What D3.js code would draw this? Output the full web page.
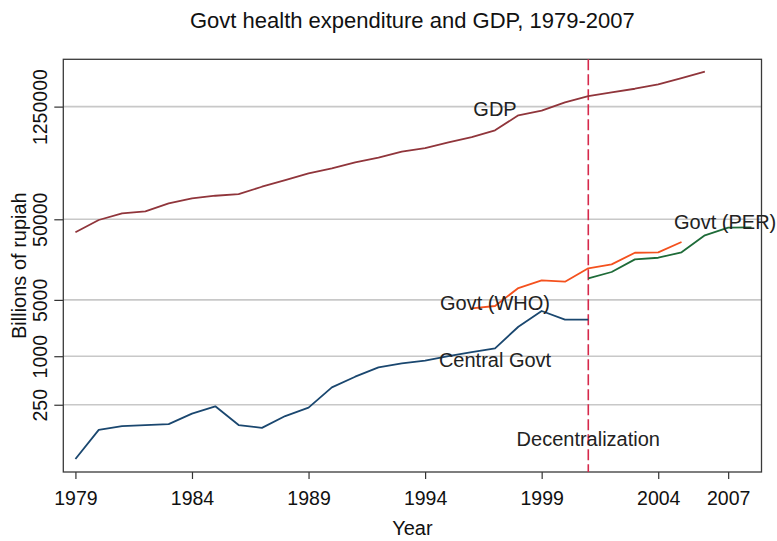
<!DOCTYPE html>
<html>
<head>
<meta charset="utf-8">
<script src="https://cdn.jsdelivr.net/npm/d3@7"></script>
<style>
  html, body { margin: 0; padding: 0; background: #fff; }
  svg { display: block; font-family: "Liberation Sans", Arial, Helvetica, sans-serif; }
</style>
</head>
<body>
<svg id="chart" width="777" height="541"></svg>
<script>
// Indonesian GDP and government health expenditure, billions of rupiah
const gdpYears = d3.range(1979, 2007);
const gdpValues = [34450, 48980, 59300, 62800, 78900, 91000, 98000, 102800, 126700, 153500,
  185800, 214300, 254500, 290300, 344500, 382800, 450600, 524500, 635300, 975000,
  1112000, 1413000, 1691000, 1880000, 2083000, 2362000, 2829000, 3389000];

const centralYears = d3.range(1979, 2002);
const centralValues = [53, 122, 136, 140, 144, 194, 239, 140, 129, 181,
  230, 411, 557, 728, 816, 880, 1000, 1127, 1253, 2323, 3638, 2838, 2838];

const whoYears = d3.range(1996, 2006);
const whoValues = [3926, 4200, 7015, 8750, 8400, 12330, 13800, 19230, 19450, 26100];

const perYears = d3.range(2001, 2009);
const perValues = [9250, 11090, 15920, 16670, 19450, 31600, 39300, 39700];

const xTicks = [1979, 1984, 1989, 1994, 1999, 2004, 2007];
const yTicks = [250, 1000, 5000, 50000, 1250000];
const decentralizationYear = 2001;

const series = [
  { name: "GDP", years: gdpYears, values: gdpValues, color: "#90353b", labelYear: 1997, dx: 0, dy: -14 },
  { name: "Central Govt", years: centralYears, values: centralValues, color: "#1a476f", labelYear: 1997, dx: 0, dy: 19 },
  { name: "Govt (WHO)", years: whoYears, values: whoValues, color: "#f4511e", labelYear: 1997, dx: 0, dy: 4 },
  { name: "Govt (PER)", years: perYears, values: perValues, color: "#1e6b38", labelYear: 2007, dx: -3, dy: 1.5 }
];

const svg = d3.select("#chart");
const plot = { left: 63.3, right: 761.5, top: 59.3, bottom: 472 };

const x = d3.scaleLinear().domain([1978.48, 2008.43]).range([plot.left, plot.right]);
const y = d3.scaleLog().domain([36.6, 4.83e6]).range([plot.bottom, plot.top]);

// horizontal grid lines at labelled ticks
svg.append("g").selectAll("line").data(yTicks).join("line")
  .attr("x1", plot.left).attr("x2", plot.right)
  .attr("y1", d => y(d)).attr("y2", d => y(d))
  .attr("stroke", "#c8c8c8").attr("stroke-width", 1.6);

// y axis with rotated labels
const yAxis = svg.append("g")
  .attr("transform", `translate(${plot.left},0)`)
  .call(d3.axisLeft(y).tickValues(yTicks).tickFormat(d3.format("d")).tickSize(9).tickPadding(0));
yAxis.select(".domain").remove();
yAxis.selectAll(".tick line").attr("stroke", "#333").attr("stroke-width", 1.2);
yAxis.selectAll(".tick text")
  .attr("transform", "translate(-16.5,0) rotate(-90)")
  .attr("x", 0).attr("dy", 0).attr("y", 0)
  .attr("text-anchor", "middle")
  .attr("font-size", "19.5px").attr("fill", "#111");

// x axis
const xAxis = svg.append("g")
  .attr("transform", `translate(0,${plot.bottom})`)
  .call(d3.axisBottom(x).tickValues(xTicks).tickFormat(d3.format("d")).tickSize(7).tickPadding(0));
xAxis.select(".domain").remove();
xAxis.selectAll(".tick line").attr("stroke", "#333").attr("stroke-width", 1.2);
xAxis.selectAll(".tick text")
  .attr("y", 33).attr("dy", 0)
  .attr("font-size", "19.5px").attr("fill", "#111");

// plot frame
svg.append("rect")
  .attr("x", plot.left).attr("y", plot.top)
  .attr("width", plot.right - plot.left).attr("height", plot.bottom - plot.top)
  .attr("fill", "none").attr("stroke", "#3a3a3a").attr("stroke-width", 1.3);

// decentralization marker
svg.append("line")
  .attr("x1", x(decentralizationYear)).attr("x2", x(decentralizationYear))
  .attr("y1", plot.top).attr("y2", plot.bottom)
  .attr("stroke", "#d6294b").attr("stroke-width", 1.6)
  .attr("stroke-dasharray", "11,4");

// series lines
const line = d3.line().x(d => x(d[0])).y(d => y(d[1]));
series.forEach(s => {
  svg.append("path")
    .datum(d3.zip(s.years, s.values))
    .attr("fill", "none")
    .attr("stroke", s.color)
    .attr("stroke-width", 1.8)
    .attr("stroke-linejoin", "round")
    .attr("d", line);
});

// series labels
series.forEach(s => {
  const i = s.years.indexOf(s.labelYear);
  svg.append("text")
    .attr("x", x(s.labelYear) + s.dx)
    .attr("y", y(s.values[i]) + s.dy)
    .attr("text-anchor", "middle")
    .attr("font-size", "20px").attr("fill", "#222")
    .text(s.name);
});

svg.append("text")
  .attr("x", x(decentralizationYear)).attr("y", 446)
  .attr("text-anchor", "middle")
  .attr("font-size", "20px").attr("fill", "#222")
  .text("Decentralization");

// titles
svg.append("text")
  .attr("x", (plot.left + plot.right) / 2).attr("y", 28)
  .attr("text-anchor", "middle")
  .attr("font-size", "22px").attr("fill", "#111")
  .text("Govt health expenditure and GDP, 1979-2007");

svg.append("text")
  .attr("x", (plot.left + plot.right) / 2).attr("y", 535)
  .attr("text-anchor", "middle")
  .attr("font-size", "20px").attr("fill", "#111")
  .text("Year");

svg.append("text")
  .attr("transform", `translate(26,${(plot.top + plot.bottom) / 2}) rotate(-90)`)
  .attr("text-anchor", "middle")
  .attr("font-size", "20px").attr("fill", "#111")
  .text("Billions of rupiah");
</script>
</body>
</html>
